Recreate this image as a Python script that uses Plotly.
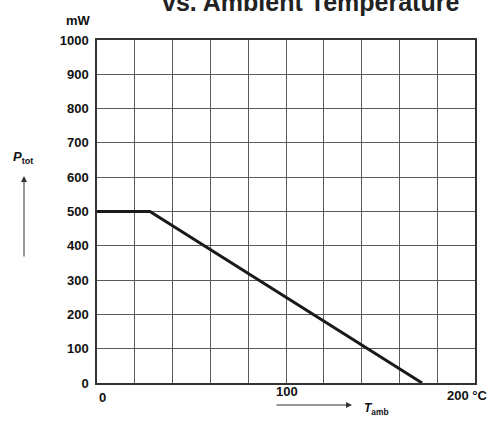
import plotly.graph_objects as go

temp_c = [0, 28, 172]
power_mw = [500, 500, 0]
y_ticks = [0, 100, 200, 300, 400, 500, 600, 700, 800, 900, 1000]
x_labels = [(0, "0"), (100, "100"), (200, "200 °C")]

FONT = "Liberation Sans"
W, H = 495, 422
# page-pixel geometry of the plot area
L, R, T, B = 97, 475, 40, 383
pl, pr, pt, pb = L, W - R, T, H - B
pw, ph = W - pl - pr, H - pt - pb
def px(x): return (x - pl) / pw
def py(y): return (H - pb - y) / ph

fig = go.Figure()
fig.add_trace(go.Scatter(x=temp_c, y=power_mw, mode="lines",
                         line=dict(color="#1a1a1a", width=3), hoverinfo="skip"))

fig.update_layout(
    width=W, height=H,
    margin=dict(l=pl, r=pr, t=pt, b=pb, pad=0),
    paper_bgcolor="white", plot_bgcolor="white",
    showlegend=False,
    font=dict(family=FONT, size=12, color="#111"),
    xaxis=dict(range=[0, 200], dtick=20, tick0=0, showgrid=True, gridcolor="#5a5a5a",
               gridwidth=1, showticklabels=False, zeroline=False,
               showline=True, linecolor="#333", linewidth=1.5, mirror=True),
    yaxis=dict(range=[0, 1000], tickvals=y_ticks, showgrid=True, gridcolor="#5a5a5a",
               gridwidth=1, zeroline=False, showline=True, linecolor="#333",
               linewidth=1.5, mirror=True, ticks="",
               tickfont=dict(family=FONT, size=13, color="#111", weight="bold"),
               ticklabelstandoff=4),
)

x_pos = {0: (102, 397), 100: (287, 391), 200: (467, 395)}
ann = []
for xv, txt in x_labels:
    xp, yp = x_pos[xv]
    ann.append(dict(x=xv, y=0, xref="x", yref="y", text="<b>%s</b>" % txt, showarrow=False,
                    yanchor="middle", xanchor="center",
                    xshift=xp - (L + xv / 200 * (R - L)), yshift=B - yp,
                    font=dict(family=FONT, size=13, color="#111")))
ann.append(dict(x=px(78), y=py(21), xref="paper", yref="paper", text="<b>mW</b>",
                xanchor="center", yanchor="middle",
                showarrow=False, font=dict(family=FONT, size=13, color="#111")))
# title clipped at top
ann.append(dict(x=px(310), y=py(18), xref="paper", yref="paper",
                text="<b>vs. Ambient Temperature</b>", showarrow=False,
                xanchor="center", yanchor="bottom",
                font=dict(family=FONT, size=25, color="#222")))
# y axis label with arrow
ann.append(dict(x=px(23), y=py(157), xref="paper", yref="paper",
                text="<b><i>P</i><sub>tot</sub></b>", showarrow=False,
                xanchor="center", yanchor="middle",
                font=dict(family=FONT, size=13, color="#111")))
ann.append(dict(x=px(24), y=py(176), ax=0, ay=82, xref="paper", yref="paper",
                text="", showarrow=True,
                arrowhead=2, arrowsize=1.2, arrowwidth=1, arrowcolor="#333"))
# x axis label with arrow
ann.append(dict(x=px(352), y=py(405), ax=-77, ay=0, xref="paper", yref="paper",
                text="", showarrow=True,
                arrowhead=2, arrowsize=1.2, arrowwidth=1, arrowcolor="#333"))
ann.append(dict(x=px(376), y=py(409), xref="paper", yref="paper",
                text="<b><i>T</i><sub>amb</sub></b>", showarrow=False,
                xanchor="center", yanchor="middle",
                font=dict(family=FONT, size=12, color="#111")))
fig.update_layout(annotations=ann)
fig.write_html("out.html", config={"displayModeBar": False},
               post_script="document.body.style.margin='0';document.body.style.overflow='hidden';")
